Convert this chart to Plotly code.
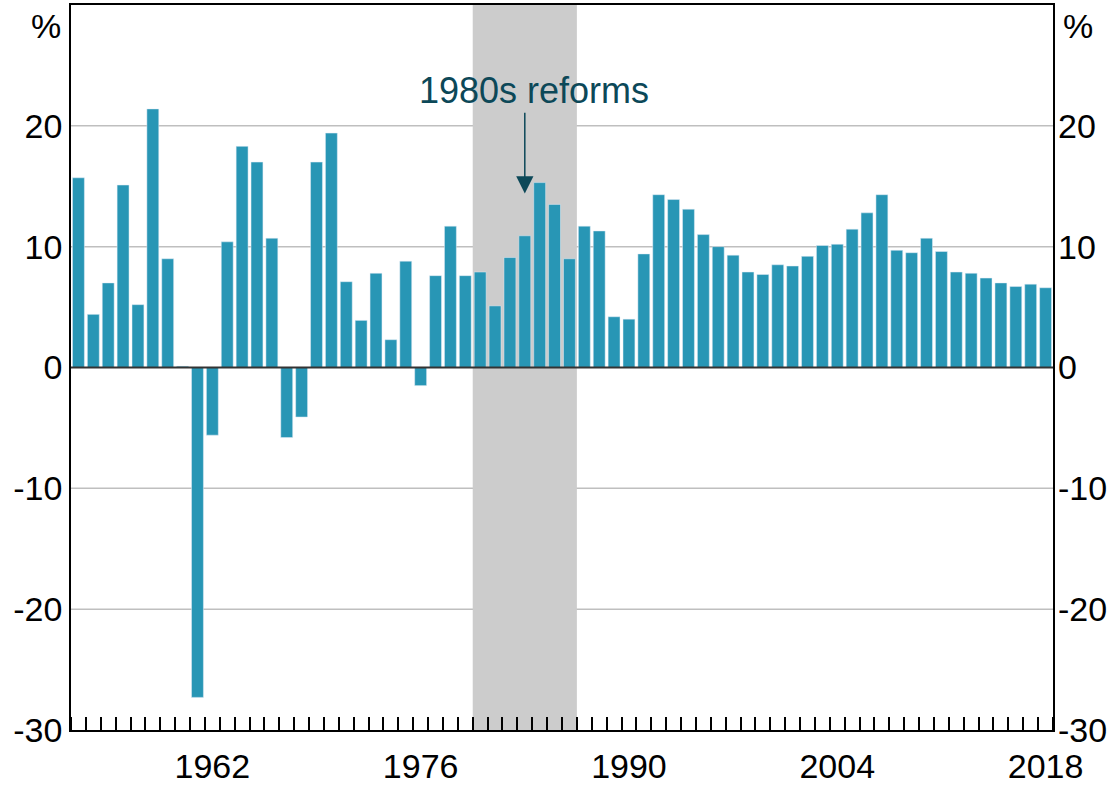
import plotly.graph_objects as go

years = list(range(1953, 2019))
values = [
    15.7, 4.4, 7.0, 15.1, 5.2, 21.4, 9.0, 0.1, -27.3, -5.6,
    10.4, 18.3, 17.0, 10.7, -5.8, -4.1, 17.0, 19.4, 7.1, 3.9,
    7.8, 2.3, 8.8, -1.5, 7.6, 11.7, 7.6, 7.9, 5.1, 9.1,
    10.9, 15.3, 13.5, 9.0, 11.7, 11.3, 4.2, 4.0, 9.4, 14.3,
    13.9, 13.1, 11.0, 10.0, 9.3, 7.9, 7.7, 8.5, 8.4, 9.2,
    10.1, 10.2, 11.45, 12.8, 14.3, 9.7, 9.5, 10.7, 9.6, 7.9,
    7.8, 7.4, 7.0, 6.7, 6.9, 6.6,
]
x_tick_years = [1962, 1976, 1990, 2004, 2018]
y_ticks = [-30, -20, -10, 0, 10, 20]
reform_start, reform_end = 1980, 1986
annot_text = "1980s reforms"
annot_year = 1983

FONT = "Arial, Liberation Sans, sans-serif"
BAR = "#2896b5"
DARK = "#0c4858"

fig = go.Figure()
fig.add_trace(go.Bar(x=years, y=values, marker_color=BAR, width=0.8,
                     hoverinfo="skip", showlegend=False))
fig.add_trace(go.Scatter(x=[years[0]], y=[0], yaxis="y2", mode="markers",
                         marker=dict(opacity=0), showlegend=False, hoverinfo="skip"))

# gridlines (drawn as shapes so the shaded band can cover them)
for v in y_ticks:
    if v not in (0, -30):
        fig.add_hline(y=v, line_color="#bfbfbf", line_width=1.5, layer="below")
fig.add_vrect(x0=reform_start - 0.5, x1=reform_end + 0.5, fillcolor="#cccccc",
              opacity=1, line_width=0, layer="below")
fig.add_hline(y=0, line_color="#333333", line_width=2, layer="above")

fig.add_annotation(x=annot_year + 0.6, y=22.9, text=annot_text, showarrow=False,
                   font=dict(family=FONT, size=36, color=DARK))
fig.add_annotation(x=annot_year, y=14.4, ax=annot_year, ay=21.2, axref="x", ayref="y",
                   text="", showarrow=True, arrowhead=2, arrowsize=2.3,
                   arrowwidth=1.5, arrowcolor=DARK)
for xp, anchor, shift in [(0, "right", -8), (1, "left", 8)]:
    fig.add_annotation(x=xp, y=1, xref="paper", yref="paper", xanchor=anchor,
                       yanchor="top", xshift=shift, text="%", showarrow=False,
                       font=dict(family=FONT, size=34, color="black"))

yaxis_common = dict(range=[-30, 30], tickvals=y_ticks, ticktext=[str(v) for v in y_ticks],
                    tickfont=dict(family=FONT, size=34, color="black"), ticks="",
                    zeroline=False, showgrid=False, automargin=False)
fig.update_layout(
    width=1117, height=787,
    margin=dict(l=71, r=64, t=5, b=57, autoexpand=False),
    plot_bgcolor="white", paper_bgcolor="white",
    showlegend=False, bargap=0.2,
    xaxis=dict(range=[years[0] - 0.5, years[-1] + 0.5], tickvals=x_tick_years,
               ticktext=[str(v) for v in x_tick_years],
               tickfont=dict(family=FONT, size=34, color="black"),
               ticks="", ticklabelstandoff=5, showgrid=False, zeroline=False,
               automargin=False,
               showline=True, linecolor="black", linewidth=1.5, mirror=True,
               minor=dict(ticks="inside", ticklen=13, tickwidth=1.5, tickcolor="black",
                          tick0=years[0] - 0.5, dtick=1, showgrid=False)),
    yaxis=dict(**yaxis_common, showline=True, linecolor="black", linewidth=1.5,
               mirror=True),
    yaxis2=dict(**yaxis_common, overlaying="y", side="right", showline=False,
                ticklabelstandoff=4),
)
fig.write_html("out.html", config={"displayModeBar": False},
               post_script="document.body.style.margin='0';document.body.style.overflow='hidden';")
